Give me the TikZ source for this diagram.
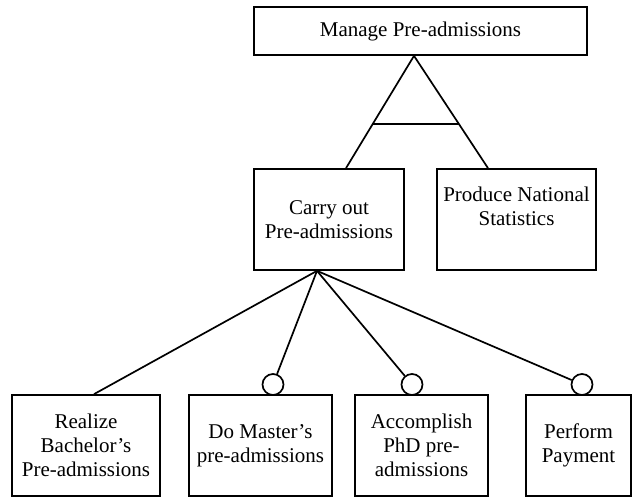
\documentclass[tikz,border=0pt]{standalone}
\usepackage{fontspec}
\setmainfont{Liberation Serif}
\usetikzlibrary{calc}
\begin{document}
\begin{tikzpicture}[x=1pt,y=-1pt,
  box/.style={draw, line width=1.7pt, inner sep=0pt, align=center,
              font=\fontsize{21}{24}\selectfont},
  label text/.style={inner sep=0pt, align=center, font=\fontsize{21}{24}\selectfont},
  ring/.style={draw, circle, line width=1.7pt, minimum size=21pt, inner sep=0pt, fill=white},
  link/.style={line width=1.7pt}]
\useasboundingbox (0,0) rectangle (633,497);

% goal hierarchy boxes
\node[box, minimum width=333, minimum height=48] (manage) at (420.5,31) {Manage Pre-admissions};
\node[box, minimum width=150, minimum height=101] (carry) at (329,219.5) {Carry out\\Pre-admissions};
\node[box, minimum width=159, minimum height=101] (prod) at (516.5,219.5) {};
\node[label text, anchor=north] (prodtxt) at ([yshift=-19]prod.north) {Produce National\\Statistics};

\node[box, minimum width=148, minimum height=101] (bach) at (86,445.5) {Realize\\Bachelor's\\Pre-admissions};
\node[box, minimum width=143, minimum height=101] (mast) at (260.5,445.5) {Do Master's\\pre-admissions};
\node[box, minimum width=133, minimum height=101] (phd) at (421.5,445.5) {Accomplish\\PhD pre-\\admissions};
\node[box, minimum width=105, minimum height=101] (pay) at (578.5,445.5) {Perform\\Payment};

% optional markers
\node[ring] (omast) at (273,384.5) {};
\node[ring] (ophd) at (412,384.5) {};
\node[ring] (opay) at (582,384.5) {};

% AND decomposition (triangle)
\coordinate (apex) at ([xshift=-6.5]manage.south);
\coordinate (hub) at ([xshift=-12]carry.south);
\draw[link] (apex) -- ([xshift=17]carry.north);
\draw[link] (apex) -- ([xshift=-28.5]prod.north);
\draw[link] ($(apex)!0.605!([xshift=17]carry.north)$) -- ($(apex)!0.605!([xshift=-28.5]prod.north)$);

% OR decomposition
\draw[link] (hub) -- ([xshift=8]bach.north);
\draw[link] (hub) -- (omast);
\draw[link] (hub) -- (ophd);
\draw[link] (hub) -- (opay);
\end{tikzpicture}
\end{document}
